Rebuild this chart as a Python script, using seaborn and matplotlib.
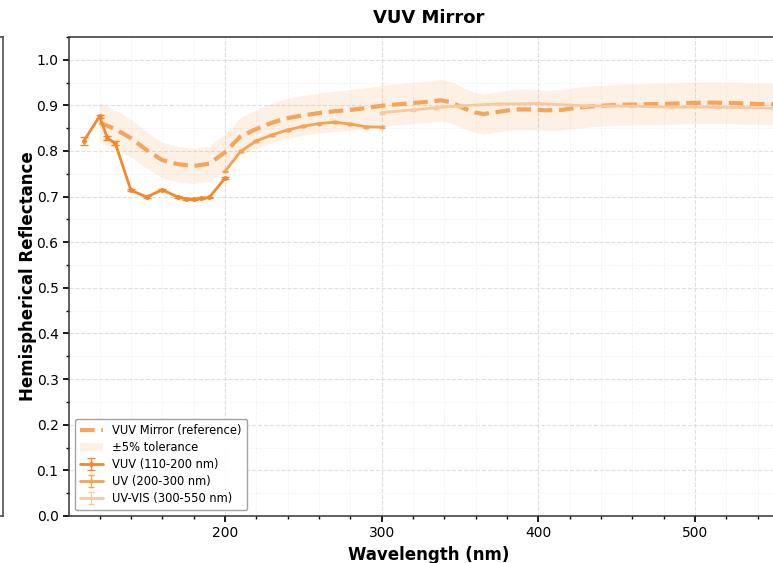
import numpy as np
import pandas as pd
import matplotlib
matplotlib.use("Agg")
import matplotlib.pyplot as plt
import seaborn as sns
from matplotlib.ticker import MultipleLocator

# ---- data ----
ref_wl = [120, 130, 140, 150, 160, 170, 180, 190, 200, 210, 220, 230, 240, 250, 260, 270,
          280, 290, 300, 310, 320, 330, 338, 345, 352, 360, 365, 375, 385, 395, 405, 415,
          425, 435, 450, 465, 480, 495, 510, 525, 540, 560]
ref_val = [0.862, 0.848, 0.828, 0.802, 0.780, 0.771, 0.767, 0.772, 0.797, 0.832, 0.848, 0.862,
           0.872, 0.878, 0.883, 0.887, 0.890, 0.894, 0.899, 0.902, 0.905, 0.908, 0.911, 0.906,
           0.894, 0.884, 0.881, 0.886, 0.891, 0.891, 0.889, 0.890, 0.895, 0.898, 0.901, 0.902,
           0.903, 0.905, 0.906, 0.905, 0.903, 0.902]

vuv_wl = [110, 120, 125, 130, 140, 150, 160, 170, 175, 180, 185, 190, 200]
vuv_val = [0.822, 0.876, 0.828, 0.817, 0.714, 0.699, 0.715, 0.699, 0.695, 0.694, 0.696, 0.698, 0.740]
vuv_err = [0.008, 0.003, 0.005, 0.005, 0.002, 0.002, 0.002, 0.002, 0.002, 0.002, 0.002, 0.002, 0.002]

uv_wl = [200, 210, 220, 230, 240, 250, 260, 270, 280, 290, 300]
uv_val = [0.755, 0.799, 0.822, 0.835, 0.846, 0.854, 0.860, 0.863, 0.859, 0.853, 0.852]
uv_err = [0.002] * len(uv_wl)

uvvis_wl = [300, 320, 335, 350, 375, 400, 430, 460, 485, 515, 550]
uvvis_val = [0.884, 0.890, 0.895, 0.899, 0.903, 0.904, 0.899, 0.898, 0.896, 0.896, 0.894]
uvvis_err = [0.002] * len(uvvis_wl)

tol = 0.05

# ---- style ----
sns.set_theme(style="ticks")
plt.rcParams["font.family"] = ["DejaVu Sans"]
plt.rcParams["text.color"] = "black"
plt.rcParams["axes.labelcolor"] = "black"
plt.rcParams["xtick.color"] = "black"
plt.rcParams["ytick.color"] = "black"

c_ref = "#f5a45a"
c_vuv = "#f28a2d"
c_uv = "#f5a350"
c_uvvis = "#f8c99e"

fig = plt.figure(figsize=(7.73, 5.63), dpi=100)
# neighbouring panel (only its right edge visible)
ax0 = fig.add_axes([-0.4, 0.0835, 0.4 + 3 / 773, 0.851])
ax0.set_xticks([]); ax0.set_yticks([])
for s in ax0.spines.values():
    s.set_color("#555555")

ax = fig.add_axes([69 / 773, 0.0835, 720 / 773, 0.851])

ref_df = pd.DataFrame({"wl": ref_wl, "val": ref_val})
ref_arr = np.array(ref_val)
band = ax.fill_between(ref_wl, ref_arr * (1 - tol), ref_arr * (1 + tol),
                       color=c_ref, alpha=0.15, linewidth=0, label="±5% tolerance")
sns.lineplot(data=ref_df, x="wl", y="val", ax=ax, color=c_ref, lw=3,
             linestyle=(0, (3.5, 1.6)), label="VUV Mirror (reference)")

e1 = ax.errorbar(vuv_wl, vuv_val, yerr=vuv_err, color=c_vuv, lw=2, marker="o", ms=2.5,
                 capsize=3, elinewidth=1, label="VUV (110-200 nm)")
e2 = ax.errorbar(uv_wl, uv_val, yerr=uv_err, color=c_uv, lw=2, marker="o", ms=2,
                 capsize=2, elinewidth=0.8, label="UV (200-300 nm)")
e3 = ax.errorbar(uvvis_wl, uvvis_val, yerr=uvvis_err, color=c_uvvis, lw=2, marker="o", ms=1.5,
                 capsize=2, elinewidth=0.8, label="UV-VIS (300-550 nm)")

ax.set_xlim(100.5, 560)
ax.set_ylim(0, 1.05)
ax.xaxis.set_major_locator(MultipleLocator(100))
ax.xaxis.set_minor_locator(MultipleLocator(20))
ax.yaxis.set_major_locator(MultipleLocator(0.1))
ax.yaxis.set_minor_locator(MultipleLocator(0.05))
ax.tick_params(which="major", length=4, labelsize=10)
ax.tick_params(which="minor", length=2.5)
ax.grid(True, which="major", linestyle="--", color="#d8d8d8", lw=0.8, alpha=0.8)
ax.grid(True, which="minor", linestyle="--", color="#ececec", lw=0.6, alpha=0.6)
ax.set_axisbelow(True)
for s in ax.spines.values():
    s.set_color("#333333")
    s.set_linewidth(1.1)

ax.set_xlabel("Wavelength (nm)", fontsize=12, fontweight="bold")
ax.set_ylabel("Hemispherical Reflectance", fontsize=12, fontweight="bold", labelpad=0)
ax.set_title("VUV Mirror", fontsize=13, fontweight="bold", pad=10)

handles, labels = ax.get_legend_handles_labels()
order = ["VUV Mirror (reference)", "±5% tolerance", "VUV (110-200 nm)",
         "UV (200-300 nm)", "UV-VIS (300-550 nm)"]
hmap = dict(zip(labels, handles))
leg = ax.legend([hmap[k] for k in order], order, loc="lower left", fontsize=8.3,
                frameon=True, framealpha=0.9, edgecolor="#999999", borderpad=0.45,
                handlelength=2.0, labelspacing=0.35)

fig.savefig("out.png", dpi=100)
